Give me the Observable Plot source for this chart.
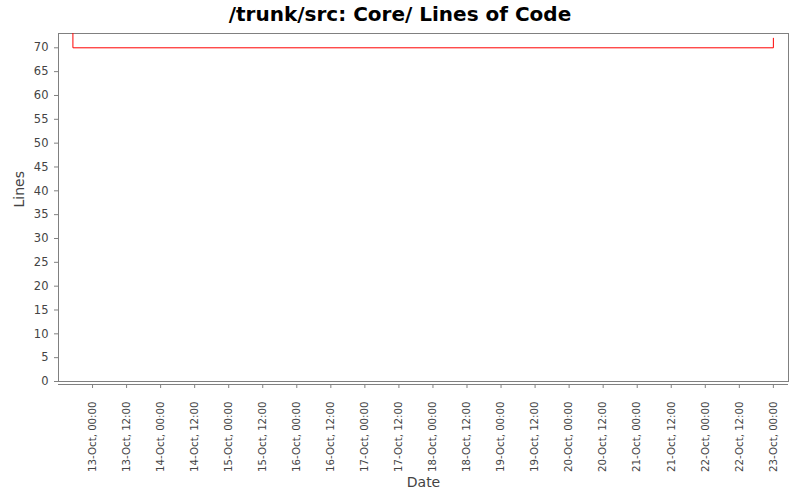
<!DOCTYPE html>
<html>
<head>
<meta charset="utf-8">
<script src="https://cdn.jsdelivr.net/npm/d3@7"></script>
<script src="https://cdn.jsdelivr.net/npm/@observablehq/plot@0.6"></script>
<style>
  html, body { margin: 0; padding: 0; background: white; }
  #title { width: 800px; height: 26px; line-height: 28px; text-align: center; overflow: visible;
           font-family: "DejaVu Sans", sans-serif; font-weight: bold; font-size: 20px; color: #000; }
  #chart svg { display: block; }
</style>
</head>
<body>
<div id="title">/trunk/src: Core/ Lines of Code</div>
<div id="chart"></div>
<script>
// Data
const dates = ["2007-10-12T17:00Z", "2007-10-12T17:05Z", "2007-10-23T00:00Z"];
const values = [75, 70, 72];
const yTicks = [0, 5, 10, 15, 20, 25, 30, 35, 40, 45, 50, 55, 60, 65, 70];
const xTickDates = [
  "2007-10-13T00:00Z", "2007-10-13T12:00Z", "2007-10-14T00:00Z", "2007-10-14T12:00Z",
  "2007-10-15T00:00Z", "2007-10-15T12:00Z", "2007-10-16T00:00Z", "2007-10-16T12:00Z",
  "2007-10-17T00:00Z", "2007-10-17T12:00Z", "2007-10-18T00:00Z", "2007-10-18T12:00Z",
  "2007-10-19T00:00Z", "2007-10-19T12:00Z", "2007-10-20T00:00Z", "2007-10-20T12:00Z",
  "2007-10-21T00:00Z", "2007-10-21T12:00Z", "2007-10-22T00:00Z", "2007-10-22T12:00Z",
  "2007-10-23T00:00Z"
];
const xDomain = ["2007-10-12T12:00Z", "2007-10-23T05:20Z"];

const data = dates.map((d, i) => ({date: new Date(d), lines: values[i]}));
const xTicks = xTickDates.map(d => new Date(d));
const fmt = d3.utcFormat("%d-%b, %H:%M");

const chart = Plot.plot({
  width: 800,
  height: 474,
  marginLeft: 58,
  marginRight: 12,
  marginTop: 7,
  marginBottom: 119,
  style: {fontFamily: "DejaVu Sans, sans-serif", fontSize: "11px", color: "#444", background: "white"},
  x: {type: "utc", domain: xDomain.map(d => new Date(d))},
  y: {domain: [0, 73]},
  marks: [
    Plot.frame({stroke: "#808080"}),
    Plot.ruleY([0], {stroke: "#808080", dy: 3}),
    Plot.axisY({ticks: yTicks, tickSize: 4, tickPadding: 6, label: null, stroke: "#808080", fill: "#444", fontSize: 11.5}),
    Plot.axisX({ticks: xTicks, tickFormat: fmt, tickRotate: -90, tickSize: 4, tickPadding: 13, dy: 3,
                label: null, stroke: "#808080", fill: "#444", fontSize: 10.2}),
    Plot.line(data, {x: "date", y: "lines", curve: "step-after", stroke: "#ff0000", strokeWidth: 1, clip: true}),
    Plot.text(["Lines"], {frameAnchor: "left", dx: -39, rotate: -90, fontSize: 14, fill: "#444"}),
    Plot.text(["Date"], {frameAnchor: "bottom", dy: 105, fontSize: 14, fill: "#444"})
  ]
});
document.getElementById("chart").appendChild(chart);
</script>
</body>
</html>
